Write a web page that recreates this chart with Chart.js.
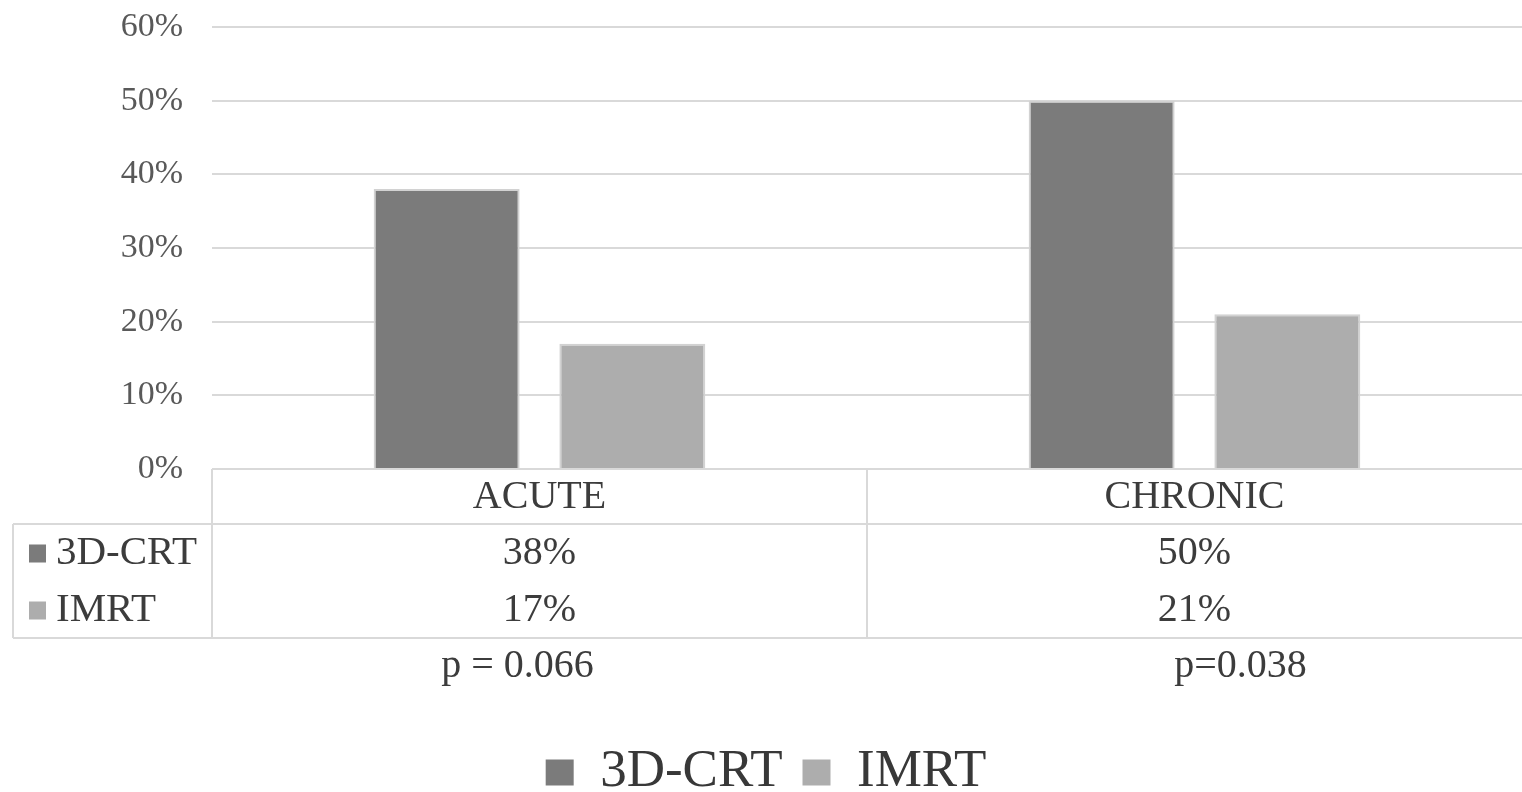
<!DOCTYPE html>
<html><head><meta charset="utf-8">
<script src="https://cdn.jsdelivr.net/npm/chart.js@4.4.1/dist/chart.umd.min.js"></script>
<style>html,body{margin:0;padding:0;background:#fff;overflow:hidden}</style>
</head><body>
<canvas id="c" width="1522" height="792"></canvas>
<script>
// ---- data ----
const categories = ['ACUTE', 'CHRONIC'];
const seriesNames = ['3D-CRT', 'IMRT'];
const crt3d = [38, 50];
const imrt = [17, 21];
const pValues = ['p = 0.066', 'p=0.038'];
const yMin = 0, yMax = 60, yStep = 10;

// ---- style ----
const FONT = "'Liberation Serif','Times New Roman',serif";
const COLORS = ['#7b7b7b', '#adadad'];
const BAR_BORDER = '#d2d2d2';
const GRID = '#d9d9d9';
const TEXT = '#3c3c3c';
const TICK = '#595959';
const pOffsets = [-22, 46];

const tablePlugin = {
  id: 'dataTable',
  afterDraw(chart) {
    const ctx = chart.ctx;
    const a = chart.chartArea;
    const xs = chart.scales.x;
    const top = a.bottom;
    const headerH = 55, rowH = 57;
    const r1 = top + headerH, r3 = r1 + 2 * rowH;
    const leftEdge = 13;
    const right = chart.width;
    const centers = categories.map((_, i) => xs.getPixelForValue(i));
    const mid = (centers[0] + centers[1]) / 2;
    ctx.save();
    ctx.strokeStyle = GRID;
    ctx.lineWidth = 2;
    ctx.beginPath();
    ctx.moveTo(a.left, top); ctx.lineTo(right, top);
    ctx.moveTo(leftEdge, r1); ctx.lineTo(right, r1);
    ctx.moveTo(leftEdge, r3); ctx.lineTo(right, r3);
    ctx.moveTo(leftEdge, r1); ctx.lineTo(leftEdge, r3);
    ctx.moveTo(a.left, top); ctx.lineTo(a.left, r3);
    ctx.moveTo(mid, top); ctx.lineTo(mid, r3);
    ctx.stroke();

    ctx.fillStyle = TEXT;
    ctx.font = '40px ' + FONT;
    ctx.textAlign = 'center';
    ctx.textBaseline = 'middle';
    categories.forEach((c, i) => ctx.fillText(c, centers[i], top + headerH / 2 + 1));
    const series = [crt3d, imrt];
    series.forEach((vals, s) => {
      const y = r1 + rowH * s + rowH / 2 + 1;
      ctx.font = '40px ' + FONT;
      vals.forEach((v, i) => {
        ctx.fillStyle = TEXT;
        ctx.textAlign = 'center';
        ctx.fillText(v + '%', centers[i], y);
      });
      ctx.fillStyle = COLORS[s];
      ctx.fillRect(29, y - 9, 17, 18);
      ctx.fillStyle = TEXT;
      ctx.textAlign = 'left';
      ctx.font = '41px ' + FONT;
      ctx.fillText(seriesNames[s], 56, y);
    });
    ctx.font = '40px ' + FONT;
    ctx.textAlign = 'center';
    pValues.forEach((p, i) => ctx.fillText(p, centers[i] + pOffsets[i], r3 + 28));
    ctx.restore();
  }
};

new Chart(document.getElementById('c'), {
  type: 'bar',
  data: {
    labels: categories,
    datasets: [
      { label: seriesNames[0], data: crt3d, backgroundColor: COLORS[0], borderColor: BAR_BORDER, borderWidth: 2,
        categoryPercentage: 0.567, barPercentage: 0.786 },
      { label: seriesNames[1], data: imrt, backgroundColor: COLORS[1], borderColor: BAR_BORDER, borderWidth: 2,
        categoryPercentage: 0.567, barPercentage: 0.786 }
    ]
  },
  options: {
    responsive: false,
    animation: false,
    devicePixelRatio: 1,
    layout: { padding: { top: 27, left: 0, right: -10, bottom: 0 } },
    plugins: {
      tooltip: { enabled: false },
      legend: {
        position: 'bottom',
        maxHeight: 66,
        labels: {
          font: { family: FONT, size: 53 },
          color: '#383838',
          boxWidth: 28,
          boxHeight: 26,
          padding: 20,
          generateLabels(chart) {
            return Chart.defaults.plugins.legend.labels.generateLabels(chart).map(l => {
              l.lineWidth = 0; l.strokeStyle = l.fillStyle; return l;
            });
          }
        }
      }
    },
    scales: {
      x: {
        ticks: { display: false },
        grid: { display: false },
        border: { display: false },
        afterFit(s) { s.height = 257; }
      },
      y: {
        min: yMin, max: yMax,
        ticks: { stepSize: yStep, callback: v => v + '%', font: { family: FONT, size: 34 }, color: TICK, padding: 29 },
        grid: { color: GRID, lineWidth: 2, drawTicks: false },
        border: { display: false },
        afterFit(s) { s.width = 212; s.paddingTop = 0; s.paddingBottom = 0; }
      }
    }
  },
  plugins: [tablePlugin]
});
</script>
</body></html>
